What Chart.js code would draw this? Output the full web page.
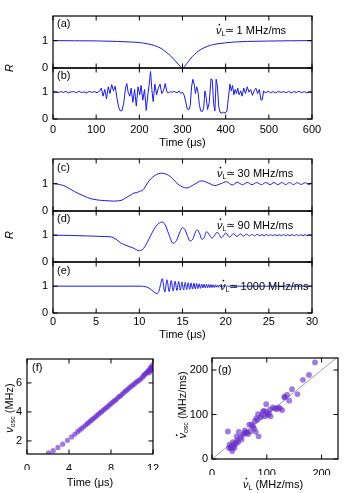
<!DOCTYPE html>
<html>
<head>
<meta charset="utf-8">
<script src="https://cdn.jsdelivr.net/npm/chart.js@4.4.0/dist/chart.umd.min.js"></script>
<style>
  body { margin: 0; background: #fff; }
  #wrap { position: relative; width: 356px; height: 493px; }
  #wrap canvas { position: absolute; left: 0; top: 0; }
</style>
</head>
<body>
<div id="wrap">
  <canvas id="pa" width="356" height="493"></canvas>
  <canvas id="pb" width="356" height="493"></canvas>
  <canvas id="pc" width="356" height="493"></canvas>
  <canvas id="pd" width="356" height="493"></canvas>
  <canvas id="pe" width="356" height="493"></canvas>
  <canvas id="pf" width="356" height="493"></canvas>
  <canvas id="pg" width="356" height="493"></canvas>
</div>
<script>
// ---- data ----
// (a) slow sweep, 1 MHz/ms
const aT = [0,50,100,150,180,200,220,235,250,262,272,282,290,296,300,304,310,318,328,338,350,365,380,400,420,450,500,550,600];
const aR = [1.0,0.995,0.99,0.97,0.95,0.93,0.88,0.82,0.72,0.58,0.45,0.28,0.14,0.05,0.0,0.05,0.16,0.33,0.5,0.63,0.74,0.83,0.88,0.92,0.95,0.97,0.985,0.995,1.0];

// (b) noisy trace
const bT = [0,6,12,18,24,30,36,42,48,54,60,66,72,78,84,90,96,102,108,
  112,116,120,124,128,132,136,140,144,148,152,156,160,164,168,171,174,178,181,185,189,193,197,201,204,208,212,216,220,223,226,229,232,236,240,244,248,252,256,260,264,
  268,272,276,280,284,288,292,296,300,304,308,311,315,318,321,324,327,330,333,336,339,342,346,349,352,355,358,362,366,369,372,375,378,381,384,387,391,395,399,403,406,410,413,416,419,422,425,428,431,435,438,442,446,450,454,458,462,466,470,474,478,482,485,488,492,
  498,504,510,516,522,528,534,540,546,552,558,564,570,576,582,588,594,600];
const bR = [1.0,1.03,0.98,1.02,0.99,1.03,0.97,1.01,1.02,0.98,1.03,0.99,1.01,0.97,1.03,0.99,1.02,0.98,1.04,
  1.15,0.85,1.1,0.75,1.2,0.95,1.28,1.05,1.22,0.8,0.45,0.3,0.32,0.6,1.15,1.32,1.0,0.85,1.15,0.62,1.1,0.48,1.2,0.9,1.25,0.7,1.1,0.32,0.95,1.3,1.77,1.1,0.65,1.3,0.9,1.15,1.3,0.95,1.05,1.32,1.0,
  0.98,1.02,0.99,1.03,1.0,0.98,1.05,0.95,1.0,0.88,0.6,0.37,0.35,0.5,1.2,1.48,1.3,0.95,1.2,1.0,0.55,0.3,0.28,0.4,1.05,0.8,0.35,0.62,1.5,1.45,0.6,0.3,1.48,1.2,0.45,0.25,0.22,0.25,0.22,0.3,0.75,1.3,1.05,1.25,0.9,1.1,0.95,1.15,0.9,1.05,0.85,1.15,0.95,1.2,1.0,1.1,0.88,1.05,1.15,0.95,1.1,0.7,0.72,1.05,0.97,
  1.03,0.98,1.02,0.97,1.03,0.99,1.02,0.98,1.03,0.97,1.02,0.99,1.03,0.98,1.02,0.97,1.02,1.0];

// (c) 30 MHz/ms
const cT = [0,0.5,1,1.5,2,2.5,3,3.5,4,4.5,5,5.5,6,6.5,7,7.5,8,8.4,8.8,9.1,9.4,9.7,10,10.3,10.6,11,11.4,11.8,12.2,12.6,13,13.4,13.8,14.2,14.6,15,15.5,16.35,17.2,18,18.75,19.45,20.1,20.75,21.35,21.95,22.5,23.05,23.6,24.15,24.65,25.15,25.6,26.05,26.5,26.95,27.4,27.85,28.3,28.75,29.2,29.6,30];
const cR = [1.0,0.98,0.95,0.89,0.8,0.71,0.63,0.56,0.49,0.44,0.41,0.39,0.38,0.37,0.36,0.37,0.4,0.47,0.55,0.6,0.66,0.67,0.72,0.74,0.84,1.05,1.2,1.3,1.36,1.38,1.36,1.3,1.2,1.06,0.95,0.88,0.84,0.97,1.1,1.02,0.93,1.0,1.07,0.95,1.05,0.96,1.045,0.965,1.04,0.965,1.04,0.965,1.04,0.965,1.04,0.965,1.04,0.965,1.035,0.97,1.035,0.97,1.02];

// (d) 90 MHz/ms
const dT = [0,2,4,5,6,6.8,7.3,7.8,8.3,8.8,9.3,9.7,10,10.3,10.7,11.1,11.5,11.9,12.3,12.65,13,13.4,13.9,14.3,14.7,15,15.3,15.6,15.9,16.2,16.5,16.7,17,17.25,17.5,17.8,18.1,18.4,18.7,19,19.25,19.5,19.75,20,20.45,20.9,21.3,21.7,22.05,22.4,22.75,23.05,23.35,23.65,23.95,24.2,24.45,24.7,24.95,25.2,25.45,25.7,25.95,26.2,26.45,26.7,26.95,27.2,27.45,27.7,27.95,28.2,28.45,28.7,28.95,29.2,29.45,29.7,30];
const dR = [1.0,0.99,0.97,0.96,0.95,0.93,0.85,0.72,0.64,0.58,0.52,0.45,0.42,0.45,0.6,0.85,1.1,1.32,1.45,1.49,1.38,1.05,0.7,0.8,1.12,1.28,1.2,0.95,0.78,0.86,1.12,1.2,1.05,0.84,0.9,1.13,1.02,0.89,0.98,1.11,1.02,0.9,0.98,1.08,0.93,1.06,0.95,1.05,0.96,1.04,0.97,1.03,0.97,1.03,0.975,1.025,0.975,1.025,0.98,1.02,0.98,1.02,0.98,1.02,0.98,1.02,0.98,1.02,0.98,1.02,0.98,1.02,0.98,1.02,0.98,1.02,0.98,1.02,0.99];

// (e) 1000 MHz/ms
const eT = [0,5,10,10.5,11,11.4,11.8,12.05,12.25,12.45,12.65,12.95,13.2,13.45,13.7,13.92,14.14,14.35,14.55,14.75,14.94,15.13,15.31,15.49,15.66,15.83,16.0,16.16,16.32,16.48,16.63,16.78,16.93,17.08,17.22,17.36,17.5,17.64,17.78,17.91,18.04,18.17,18.3,18.43,18.55,18.67,18.8,18.92,19.04,19.16,19.28,19.4,19.52,19.64,19.76,19.88,20.0,20.12,20.24,20.36,20.6,21,25,30];
const eR = [1.0,1.0,1.0,0.99,0.95,0.86,0.76,0.72,0.8,1.05,1.28,0.78,1.24,0.8,1.21,0.82,1.19,0.84,1.17,0.85,1.15,0.86,1.14,0.87,1.13,0.88,1.12,0.89,1.11,0.9,1.1,0.91,1.09,0.92,1.08,0.93,1.07,0.93,1.07,0.94,1.06,0.94,1.06,0.95,1.05,0.95,1.05,0.96,1.04,0.96,1.04,0.97,1.03,0.97,1.03,0.98,1.02,0.98,1.02,0.99,1.01,1.0,1.0,1.0];

// (f) oscillation frequency vs time
const fT = [2.05,2.5,2.95,3.4,3.85,4.25,4.55,4.8,5.0,5.2,5.4,5.6,5.75,5.9,6.05,6.2,6.35,6.5,6.65,6.8,6.95,7.1,7.25,7.4,7.55,7.7,7.85,8.0,8.15,8.3,8.45,8.6,8.75,8.9,9.05,9.2,9.35,9.5,9.65,9.8,9.95,10.1,10.25,10.4,10.55,10.7,10.85,11.0,11.1,11.2,11.3,11.4,11.5,11.6,11.7,11.8,11.9,11.95,11.85,11.75,11.65,11.9];
const fNu = [1.18,1.33,1.55,1.78,2.04,2.28,2.46,2.62,2.74,2.86,2.98,3.1,3.2,3.29,3.38,3.47,3.56,3.65,3.74,3.84,3.93,4.02,4.11,4.2,4.29,4.38,4.48,4.57,4.66,4.76,4.82,4.94,5.05,5.1,5.22,5.32,5.42,5.5,5.6,5.7,5.78,5.86,5.95,6.05,6.12,6.2,6.28,6.4,6.5,6.6,6.62,6.72,6.8,6.88,6.82,7.0,7.1,7.25,6.95,7.05,6.7,6.9];

// (g) measured chirp vs applied sweep rate
const gL = [188,177,166,156,146,141,137,132,128,121,115,111,106,107,102,99,95,91,89,84,83,78,85,80,77,72,68,66,63,60,57,52,49,54,48,41,38,35,32,37,29,31,41,45,75,81,97,93,124,133,59,63,70,44,34,39,46,100,118,104];
const gOsc = [217,189,178,146,157,131,144,140,110,116,114,116,111,96,99,123,108,99,94,101,88,85,51,61,68,77,77,56,59,64,55,49,61,44,38,32,38,24,32,18,62,25,25,51,73,92,96,107,114,138,58,60,62,35,27,28,42,106,112,102];
const gDiag = [0, 230];

// tick values
const tickLongT = [0,100,200,300,400,500,600];
const tickShortT = [0,5,10,15,20,25,30];
const tickR = [0,1];
const tickFT = [0,4,8,12];
const tickFNu = [2,4,6];
const tickG = [0,100,200];

// ---- drawing ----
const W = 356, H = 493, YW = 24, XH = 16;
const FONT = "'Liberation Sans', Arial, sans-serif";
const BLUE = 'rgb(28, 28, 220)';
const PURPLE = 'rgba(104, 44, 204, 0.62)';
Chart.defaults.font.family = FONT;
Chart.defaults.color = '#000';

const pts = (xs, ys) => xs.map((v, i) => ({ x: v, y: ys[i] }));

function rich(ctx, item) {
  const size = item.size || 11;
  const fontFor = p => (p.it ? 'italic ' : '') + (p.sub ? Math.round(size * 0.68) : size) + 'px ' + FONT;
  let w = 0;
  const widths = item.parts.map(p => { ctx.font = fontFor(p); const m = ctx.measureText(p.t).width; w += m; return m; });
  ctx.save();
  ctx.translate(item.x, item.y);
  if (item.rot) ctx.rotate(-Math.PI / 2);
  let x = item.align === 'center' ? -w / 2 : 0;
  ctx.textBaseline = 'middle';
  ctx.textAlign = 'left';
  ctx.fillStyle = '#000';
  item.parts.forEach((p, i) => {
    ctx.font = fontFor(p);
    ctx.fillText(p.t, x, p.sub ? size * 0.32 : 0);
    if (p.dot) {
      ctx.beginPath();
      ctx.arc(x + widths[i] * 0.62, -size * 0.58, 0.85, 0, Math.PI * 2);
      ctx.fill();
    }
    x += widths[i];
  });
  ctx.restore();
}

function frame(texts) {
  return {
    id: 'frame',
    afterDraw(chart) {
      const { ctx, chartArea: a, scales: { x, y } } = chart;
      ctx.save();
      ctx.strokeStyle = '#000';
      ctx.lineWidth = 1;
      ctx.beginPath();
      x.ticks.forEach(t => {
        const p = x.getPixelForValue(t.value);
        ctx.moveTo(p, a.top); ctx.lineTo(p, a.top + 4.5);
        ctx.moveTo(p, a.bottom); ctx.lineTo(p, a.bottom - 4.5);
      });
      y.ticks.forEach(t => {
        const p = y.getPixelForValue(t.value);
        ctx.moveTo(a.left, p); ctx.lineTo(a.left + 4.5, p);
        ctx.moveTo(a.right, p); ctx.lineTo(a.right - 4.5, p);
      });
      ctx.stroke();
      ctx.lineWidth = 1.2;
      ctx.strokeRect(a.left, a.top, a.right - a.left, a.bottom - a.top);
      texts.forEach(t => rich(ctx, t));
      ctx.restore();
    }
  };
}

function axis(o, fit) {
  return {
    type: 'linear', min: o.min, max: o.max,
    grid: { display: false, drawTicks: false },
    border: { display: false },
    ticks: { display: o.labels !== false, padding: o.pad || 4, autoSkip: false, maxRotation: 0, font: { size: 11 }, color: '#000' },
    afterBuildTicks: s => { s.ticks = o.ticks.map(v => ({ value: v })); },
    afterFit: fit
  };
}

function panel(id, box, sx, sy, datasets, texts) {
  const [L, T, R, B] = box;
  return new Chart(document.getElementById(id), {
    type: 'line',
    data: { datasets },
    options: {
      responsive: false,
      animation: false,
      layout: { padding: { left: L - YW, top: T, right: W - R, bottom: H - B - XH } },
      plugins: { legend: { display: false }, tooltip: { enabled: false } },
      scales: {
        x: axis(sx, s => { s.height = XH; }),
        y: axis(sy, s => { s.width = YW; })
      }
    },
    plugins: [frame(texts)]
  });
}

const trace = (xs, ys, smooth) => ({
  data: pts(xs, ys), borderColor: BLUE, borderWidth: 1, pointRadius: 0,
  cubicInterpolationMode: smooth ? 'monotone' : 'default', tension: 0
});
const dots = (xs, ys, r) => ({
  data: pts(xs, ys), showLine: false, pointRadius: r, pointBorderWidth: 0,
  pointBackgroundColor: PURPLE, backgroundColor: PURPLE
});
const rate = v => [{ t: 'ν', it: true, dot: true }, { t: 'L', sub: true }, { t: '≃\u2009' + v + ' MHz/ms' }];
const lab = s => [{ t: s }];
const yR = { min: 0, max: 1.9, ticks: tickR, pad: 5 };

panel('pa', [53, 16, 312, 68],
  { min: 0, max: 600, ticks: tickLongT, labels: false }, yR,
  [trace(aT, aR, true)],
  [{ x: 57, y: 24, parts: lab('(a)') }, { x: 216, y: 31, parts: rate('1') }]);

panel('pb', [53, 68, 312, 119],
  { min: 0, max: 600, ticks: tickLongT, pad: 4 }, yR,
  [trace(bT, bR, false)],
  [{ x: 57, y: 76, parts: lab('(b)') },
   { x: 182.5, y: 143, align: 'center', parts: lab('Time (μs)') },
   { x: 10, y: 68, rot: true, align: 'center', parts: [{ t: 'R', it: true }] }]);

panel('pc', [53, 159, 312, 211],
  { min: 0, max: 30, ticks: tickShortT, labels: false }, yR,
  [trace(cT, cR, true)],
  [{ x: 57, y: 167.5, parts: lab('(c)') }, { x: 217, y: 174, parts: rate('30') }]);

panel('pd', [53, 211, 312, 262],
  { min: 0, max: 30, ticks: tickShortT, labels: false }, yR,
  [trace(dT, dR, true)],
  [{ x: 57, y: 219, parts: lab('(d)') }, { x: 217, y: 225.5, parts: rate('90') },
   { x: 10, y: 235, rot: true, align: 'center', parts: [{ t: 'R', it: true }] }]);

panel('pe', [53, 262, 312, 313],
  { min: 0, max: 30, ticks: tickShortT, pad: 2 }, yR,
  [trace(eT, eR, true)],
  [{ x: 57, y: 271, parts: lab('(e)') }, { x: 220, y: 287, parts: rate('1000') },
   { x: 182.5, y: 335, align: 'center', parts: lab('Time (μs)') }]);

panel('pf', [27, 359, 153, 454],
  { min: 0, max: 12, ticks: tickFT, pad: 8 }, { min: 1.1, max: 7.65, ticks: tickFNu, pad: 5 },
  [dots(fT, fNu, 2.6)],
  [{ x: 32, y: 368, parts: lab('(f)') },
   { x: 90, y: 483, align: 'center', parts: lab('Time (μs)') },
   { x: 10, y: 408, rot: true, align: 'center', parts: [{ t: 'ν', it: true }, { t: 'osc', sub: true }, { t: ' (MHz)' }] }]);

panel('pg', [212, 358, 338, 459],
  { min: 0, max: 230, ticks: tickG, pad: 8 }, { min: 0, max: 227, ticks: tickG, pad: 4 },
  [dots(gL, gOsc, 2.9),
   { data: pts(gDiag, gDiag), borderColor: '#8a8a8a', borderWidth: 0.8, pointRadius: 0 }],
  [{ x: 218, y: 370, parts: lab('(g)') },
   { x: 273, y: 485, align: 'center', parts: [{ t: 'ν', it: true, dot: true }, { t: 'L', sub: true }, { t: ' (MHz/ms)' }] },
   { x: 183, y: 405, rot: true, align: 'center', parts: [{ t: 'ν', it: true, dot: true }, { t: 'osc', sub: true }, { t: ' (MHz/ms)' }] }]);
</script>
</body>
</html>
